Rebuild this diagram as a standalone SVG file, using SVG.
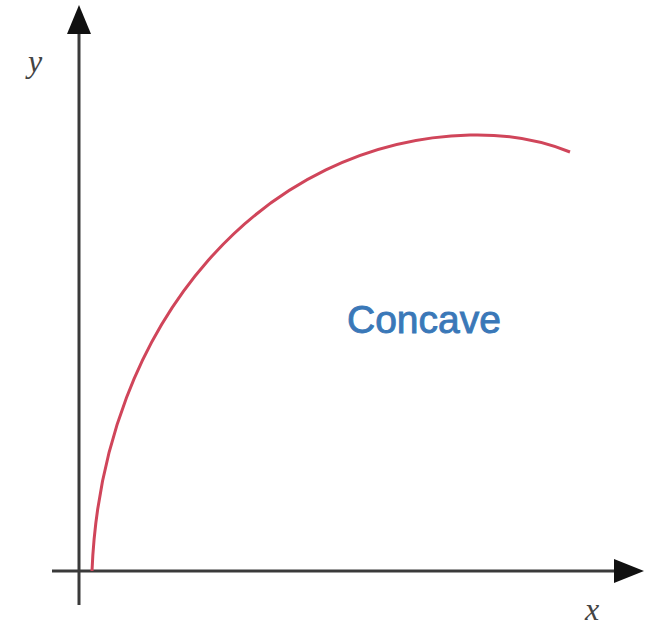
<svg xmlns="http://www.w3.org/2000/svg" width="659" height="627" viewBox="0 0 659 627">
<style>
.axis{stroke:#3a3a3a;stroke-width:3;fill:none}
.lbl{font-family:"Liberation Serif",serif;font-style:italic;font-size:32px;fill:#444}
.curve{stroke:#d0455a;stroke-width:3;fill:none}
.note{font-family:"Liberation Sans",Arial,sans-serif;font-size:39px;fill:#3a78b8;stroke:#3a78b8;stroke-width:0.9}
</style>
<rect width="659" height="627" fill="#fff"/>
<g id="connectors">
<line class="axis" x1="79" y1="605" x2="79" y2="12"/>
<path d="M79,5 L67,34 L91,34 Z" fill="#111"/>
<line class="axis" x1="52" y1="571" x2="618" y2="571"/>
<path d="M644,571 L614,559 L614,583 Z" fill="#111"/>
</g>
<g id="curve">
<path class="curve" d="M92,571 C102,320 265,140 470,135 C510,134 545,142 570,152"/>
</g>
<g id="labels">
<text class="lbl" x="28" y="72">y</text>
<text class="lbl" x="585" y="620">x</text>
<text class="note" x="347" y="333">Concave</text>
</g>
</svg>
